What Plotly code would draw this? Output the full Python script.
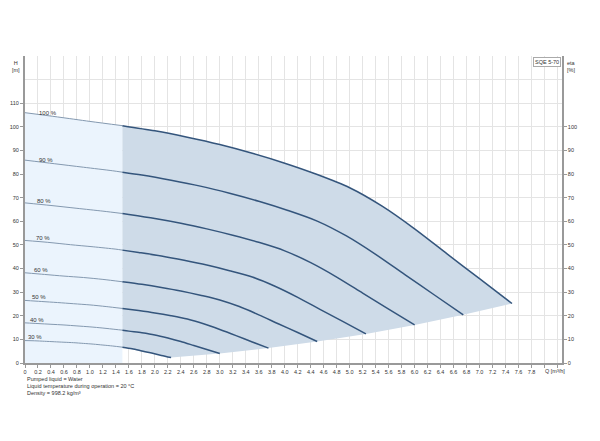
import plotly.graph_objects as go

# speed curves, Q [m3/h] and H [m]
speed_labels = ["100 %", "90 %", "80 %", "70 %", "60 %", "50 %", "40 %", "30 %"]

q_100 = [0, 0.5, 1.0, 1.5, 2.0, 2.5, 3.0, 3.5, 4.0, 4.5, 5.0, 5.5, 6.0, 6.5, 7.0, 7.5]
h_100 = [106, 104.2, 102.3, 100.5, 98.3, 95.6, 92.5, 88.8, 84.6, 79.8, 74.2, 66.4, 56.8, 46.2, 35.7, 25.2]

q_90 = [0, 0.45, 0.9, 1.35, 1.5, 1.8, 2.25, 2.7, 3.15, 3.6, 4.05, 4.5, 4.95, 5.4, 5.85, 6.3, 6.75]
h_90 = [85.9, 84.4, 82.9, 81.4, 80.8, 79.6, 77.4, 74.9, 71.9, 68.5, 64.6, 60.1, 53.8, 46.0, 37.4, 28.9, 20.4]

q_80 = [0, 0.4, 0.8, 1.2, 1.5, 1.6, 2.0, 2.4, 2.8, 3.2, 3.6, 4.0, 4.4, 4.8, 5.2, 5.6, 6.0]
h_80 = [67.8, 66.7, 65.5, 64.3, 63.3, 62.9, 61.2, 59.2, 56.8, 54.1, 51.1, 47.5, 42.5, 36.4, 29.6, 22.8, 16.1]

q_70 = [0, 0.35, 0.7, 1.05, 1.4, 1.5, 1.75, 2.1, 2.45, 2.8, 3.15, 3.5, 3.85, 4.2, 4.55, 4.9, 5.25]
h_70 = [51.9, 51.1, 50.1, 49.2, 48.2, 47.8, 46.8, 45.3, 43.5, 41.5, 39.1, 36.4, 32.5, 27.8, 22.6, 17.5, 12.3]

q_60 = [0, 0.3, 0.6, 0.9, 1.2, 1.5, 1.8, 2.1, 2.4, 2.7, 3.0, 3.3, 3.6, 3.9, 4.2, 4.5]
h_60 = [38.2, 37.5, 36.8, 36.2, 35.4, 34.4, 33.3, 32.0, 30.5, 28.7, 26.7, 23.9, 20.4, 16.6, 12.9, 9.1]

q_50 = [0, 0.25, 0.5, 0.75, 1.0, 1.25, 1.5, 1.75, 2.0, 2.25, 2.5, 2.75, 3.0, 3.25, 3.5, 3.75]
h_50 = [26.5, 26.05, 25.6, 25.1, 24.6, 23.9, 23.1, 22.2, 21.2, 20.0, 18.6, 16.6, 14.2, 11.6, 8.9, 6.3]

q_40 = [0, 0.2, 0.4, 0.6, 0.8, 1.0, 1.2, 1.4, 1.5, 1.6, 1.8, 2.0, 2.2, 2.4, 2.6, 2.8, 3.0]
h_40 = [17.0, 16.7, 16.4, 16.1, 15.7, 15.3, 14.8, 14.2, 13.9, 13.5, 12.8, 11.9, 10.6, 9.1, 7.4, 5.7, 4.0]

q_30 = [0, 0.15, 0.3, 0.45, 0.6, 0.75, 0.9, 1.05, 1.2, 1.35, 1.5, 1.65, 1.8, 1.95, 2.1, 2.25]
h_30 = [9.5, 9.4, 9.2, 9.0, 8.8, 8.6, 8.3, 8.0, 7.6, 7.2, 6.7, 6.0, 5.1, 4.2, 3.2, 2.3]

q_limit = 1.5  # min flow, left of it the curves are drawn thin

x_ticks = [round(i * 0.2, 1) for i in range(40)]
x_ticktext = ["0"] + ["%.1f" % v for v in x_ticks[1:]]
y_ticks = list(range(0, 120, 10))
eta_ticks = list(range(0, 110, 10))

notes = [
    "Pumped liquid = Water",
    "Liquid temperature during operation = 20 °C",
    "Density = 998.2 kg/m³",
]

curves = [(q_100, h_100), (q_90, h_90), (q_80, h_80), (q_70, h_70),
          (q_60, h_60), (q_50, h_50), (q_40, h_40), (q_30, h_30)]

FONT = "Liberation Sans, Arial, sans-serif"
TXT = "#333333"
THIN = "#8499b0"
THICK = "#34557c"
GRID = "#e4e4e4"

fig = go.Figure()

# light area left of the min flow
left_q = [q for q in q_100 if q <= q_limit]
left_h = h_100[:len(left_q)]
fig.add_trace(go.Scatter(
    x=[0] + left_q + [q_limit, 0],
    y=[0] + left_h + [0, 0],
    fill="toself", fillcolor="#ebf4fd",
    line=dict(width=0), mode="lines", hoverinfo="skip", showlegend=False,
))

# dark operating area: top curve, end points, then lowest curve back
top_q = [q for q in q_100 if q >= q_limit]
top_h = h_100[len(q_100) - len(top_q):]
ends_q = [c[0][-1] for c in curves]
ends_h = [c[1][-1] for c in curves]
low_q = [q for q in q_30 if q >= q_limit]
low_h = h_30[len(q_30) - len(low_q):]
fig.add_trace(go.Scatter(
    x=top_q + ends_q[1:] + low_q[::-1][1:],
    y=top_h + ends_h[1:] + low_h[::-1][1:],
    fill="toself", fillcolor="#cedbe8",
    line=dict(width=0), mode="lines", hoverinfo="skip", showlegend=False,
))

for (qs, hs), lab in zip(curves, speed_labels):
    n_left = len([q for q in qs if q <= q_limit])
    fig.add_trace(go.Scatter(
        x=qs[:n_left], y=hs[:n_left], mode="lines",
        line=dict(color=THIN, width=1, shape="spline", smoothing=0.8),
        hoverinfo="skip", showlegend=False,
    ))
    fig.add_trace(go.Scatter(
        x=qs[n_left - 1:], y=hs[n_left - 1:], mode="lines",
        line=dict(color=THICK, width=1.5, shape="spline", smoothing=0.8),
        hoverinfo="skip", showlegend=False,
    ))

# speed labels sit just above the left end of each curve
label_q = [0.36, 0.32, 0.29, 0.27, 0.24, 0.21, 0.18, 0.15]
for (qs, hs), lab, lq in zip(curves, speed_labels, label_q):
    fig.add_annotation(
        x=lq, y=hs[1], text=lab, showarrow=False, xanchor="center", yanchor="bottom",
        yshift=-1, font=dict(family=FONT, size=6, color=TXT),
    )

# invisible trace to activate the right axis
fig.add_trace(go.Scatter(x=[0], y=[0], yaxis="y2", mode="markers",
                         marker=dict(opacity=0), hoverinfo="skip", showlegend=False))

fig.add_annotation(
    x=0.9985, y=0.998, xref="paper", yref="paper", text="SQE 5-70", showarrow=False,
    xanchor="right", yanchor="top", bordercolor="#aaaaaa", borderwidth=1, borderpad=1,
    bgcolor="white", font=dict(family=FONT, size=5.5, color=TXT),
)
fig.add_annotation(x=-0.006, y=0.995, xref="paper", yref="paper", text="H<br>[m]",
                   showarrow=False, xanchor="right", yanchor="top", align="center",
                   font=dict(family=FONT, size=5.5, color=TXT))
fig.add_annotation(x=1.006, y=0.995, xref="paper", yref="paper", text="eta<br>[%]",
                   showarrow=False, xanchor="left", yanchor="top", align="left",
                   font=dict(family=FONT, size=5.5, color=TXT))
fig.add_annotation(x=7.97, y=0, xref="x", yref="paper", yshift=-3, text="Q [m³/h]",
                   showarrow=False, xanchor="left", yanchor="top",
                   font=dict(family=FONT, size=5.5, color=TXT))
fig.add_annotation(x=0, y=-0.035, xref="paper", yref="paper", text="<br>".join(notes),
                   showarrow=False, xanchor="left", yanchor="top", align="left",
                   font=dict(family=FONT, size=5.5, color=TXT))

axis_common = dict(
    showline=True, linecolor="#999999", ticks="outside", ticklen=3, tickcolor="#999999",
    tickfont=dict(family=FONT, size=5.5, color=TXT), zeroline=False, automargin=False,
)

# the page body adds an 8 px offset, so the figure is drawn 8 px smaller
fig.update_layout(
    width=592, height=433,
    margin=dict(l=17, r=38, t=48, b=78),
    paper_bgcolor="white", plot_bgcolor="white",
    xaxis=dict(
        range=[0, 8.27], tickvals=x_ticks, ticktext=x_ticktext, tickangle=0,
        showgrid=True, gridcolor=GRID, gridwidth=1, linewidth=1.5,
        minor=dict(tickvals=[8.0, 8.2], showgrid=True, gridcolor=GRID, ticks="outside",
                   ticklen=3, tickcolor="#999999"),
        **axis_common,
    ),
    yaxis=dict(
        range=[0, 130], tickvals=y_ticks, showgrid=True, gridcolor=GRID,
        minor=dict(tickvals=[120, 130], showgrid=True, gridcolor=GRID, ticks=""),
        linewidth=2, **axis_common,
    ),
    yaxis2=dict(
        range=[0, 130], tickvals=eta_ticks, overlaying="y", side="right",
        showgrid=False, linewidth=1.5, **axis_common,
    ),
)

fig.write_html("out.html")
